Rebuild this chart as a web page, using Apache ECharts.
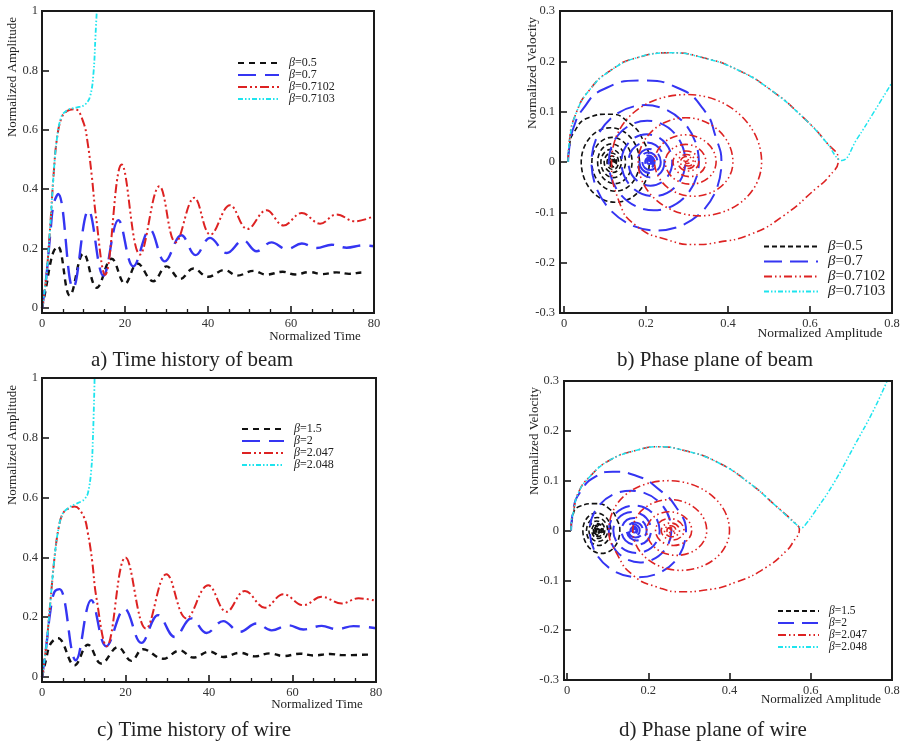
<!DOCTYPE html>
<html>
<head>
<meta charset="utf-8">
<script src="https://cdn.jsdelivr.net/npm/echarts@6/dist/echarts.min.js"></script>
<style>html,body{margin:0;padding:0;background:#fff}#c{width:902px;height:744px}</style>
</head>
<body>
<div id="c"></div>
<script>
// ---------- tick labels ----------
const timeTicks = [0, 20, 40, 60, 80];
const ampTicks = [0, 0.2, 0.4, 0.6, 0.8, 1];
const phaseAmpTicks = [0, 0.2, 0.4, 0.6, 0.8];
const velTicks = [-0.3, -0.2, -0.1, 0, 0.1, 0.2, 0.3];

// ---------- legend names ----------
const beamNames = ['β=0.5', 'β=0.7', 'β=0.7102', 'β=0.7103'];
const wireNames = ['β=1.5', 'β=2', 'β=2.047', 'β=2.048'];

// ---------- a) time history of beam [time, amplitude] ----------
const beamTime05 = [[0,0],[1,0.07],[2,0.15],[2.8,0.19],[3.8,0.208],[6.7,0.042],[10,0.184],[13.2,0.068],[16.8,0.166],[20,0.082],[23,0.150],[26.8,0.090],[30,0.140],[33.3,0.098],[36.5,0.133],[40,0.105],[44,0.128],[47,0.109],[51,0.125],[54,0.112],[58,0.122],[61,0.113],[64.5,0.121],[67.5,0.114],[71,0.120],[74,0.115],[77.5,0.120],[78.2,0.119]];
const beamTime07 = [[0,0],[1,0.1],[2,0.25],[2.8,0.35],[3.9,0.384],[7.5,0.067],[11.2,0.329],[14.8,0.109],[18.4,0.296],[22,0.140],[26,0.264],[29.6,0.157],[33.6,0.245],[37,0.178],[40.5,0.236],[44.5,0.185],[48.5,0.228],[51.7,0.191],[55.3,0.221],[59,0.198],[62.6,0.217],[66.2,0.202],[69.8,0.213],[73.4,0.203],[77.4,0.211],[80,0.208]];
const beamTime7102 = [[0,0],[1,0.1],[2,0.28],[2.8,0.45],[3.6,0.57],[4.7,0.64],[6,0.663],[8,0.669],[10,0.624],[11,0.556],[12,0.444],[13,0.309],[15.2,0.112],[19.2,0.483],[23.6,0.180],[28.3,0.410],[32.2,0.221],[36.7,0.371],[40.6,0.247],[45.3,0.346],[49.5,0.266],[54.1,0.329],[58.2,0.278],[62.6,0.320],[67,0.284],[71,0.315],[75.4,0.292],[80,0.309]];
const beamTime7103 = [[0,0],[1,0.1],[2,0.28],[2.8,0.45],[3.6,0.57],[4.7,0.645],[6,0.665],[7.5,0.673],[9,0.677],[10.4,0.685],[11.6,0.713],[12.4,0.79],[12.9,0.92],[13.2,1.0]];

// ---------- b) phase plane of beam [amplitude, velocity] ----------
const beamPhase05 = [[0.01,0],[0.013,0.03],[0.025,0.06],[0.06,0.088],[0.11,0.095],[0.16,0.077],[0.195,0.04],[0.208,0],[0.125,-0.080],[0.042,0],[0.113,0.068],[0.184,0],[0.126,-0.058],[0.068,0],[0.117,0.049],[0.166,0],[0.124,-0.043],[0.082,0],[0.116,0.036],[0.150,0],[0.120,-0.031],[0.090,0],[0.115,0.025],[0.140,0],[0.119,-0.021],[0.098,0],[0.116,0.018],[0.133,0],[0.119,-0.015],[0.105,0],[0.117,0.012],[0.128,0],[0.118,-0.010],[0.109,0],[0.117,0.008],[0.125,0],[0.118,-0.007],[0.112,0],[0.117,0.005],[0.122,0],[0.118,-0.004],[0.114,0],[0.117,0.003],[0.120,0],[0.117,-0.002],[0.115,0],[0.117,0.001],[0.119,0]];
const beamPhase07 = [[0.01,0],[0.014,0.035],[0.024,0.07],[0.046,0.105],[0.095,0.144],[0.193,0.162],[0.275,0.148],[0.34,0.105],[0.372,0.045],[0.384,0],[0.226,-0.136],[0.067,0],[0.198,0.113],[0.329,0],[0.219,-0.096],[0.109,0],[0.203,0.082],[0.296,0],[0.218,-0.068],[0.140,0],[0.202,0.055],[0.264,0],[0.211,-0.047],[0.157,0],[0.201,0.039],[0.245,0],[0.212,-0.031],[0.179,0],[0.207,0.026],[0.236,0],[0.210,-0.022],[0.184,0],[0.206,0.019],[0.228,0],[0.210,-0.016],[0.191,0],[0.206,0.013],[0.221,0],[0.210,-0.011],[0.198,0],[0.207,0.009],[0.217,0],[0.209,-0.007],[0.202,0],[0.207,0.005],[0.213,0],[0.208,-0.004],[0.203,0],[0.207,0.003],[0.211,0],[0.208,-0.002],[0.206,0],[0.208,0]];
const beamPhase7102 = [[0.01,0],[0.013,0.04],[0.03,0.098],[0.063,0.144],[0.112,0.181],[0.177,0.207],[0.262,0.217],[0.34,0.207],[0.421,0.184],[0.503,0.144],[0.584,0.088],[0.641,0.038],[0.669,0.004],[0.645,-0.03],[0.617,-0.051],[0.535,-0.107],[0.454,-0.144],[0.372,-0.160],[0.323,-0.164],[0.250,-0.154],[0.177,-0.127],[0.135,-0.080],[0.116,0],[0.300,0.134],[0.482,0],[0.332,-0.107],[0.181,0],[0.297,0.088],[0.412,0],[0.316,-0.068],[0.221,0],[0.296,0.054],[0.371,0],[0.309,-0.044],[0.247,0],[0.297,0.035],[0.346,0],[0.306,-0.029],[0.266,0],[0.298,0.022],[0.329,0],[0.304,-0.018],[0.278,0],[0.299,0.015],[0.320,0],[0.302,-0.013],[0.284,0],[0.300,0.011],[0.315,0],[0.303,-0.008],[0.292,0],[0.300,0.005],[0.307,0],[0.300,-0.003],[0.296,0],[0.300,0.002],[0.302,0]];
const beamPhase7103 = [[0.01,0],[0.013,0.04],[0.03,0.098],[0.063,0.144],[0.112,0.181],[0.177,0.207],[0.262,0.217],[0.34,0.207],[0.421,0.184],[0.503,0.144],[0.584,0.088],[0.641,0.038],[0.672,0.004],[0.678,0.003],[0.714,0.045],[0.755,0.098],[0.80,0.158]];

// ---------- c) time history of wire [time, amplitude] ----------
const wireTime15 = [[0,0],[1,0.06],[2,0.11],[3.8,0.130],[7.8,0.039],[11,0.108],[14.2,0.045],[18.2,0.100],[21.4,0.054],[24.2,0.093],[29,0.061],[33,0.089],[36.2,0.065],[40.2,0.085],[43.4,0.067],[47.4,0.081],[51,0.069],[54.6,0.079],[57.8,0.070],[61.8,0.078],[65,0.072],[69,0.077],[72.2,0.073],[78.2,0.075]];
const wireTime2 = [[0,0],[1,0.1],[2,0.22],[3,0.285],[4.2,0.294],[8.1,0.056],[11.8,0.257],[15.4,0.103],[19.8,0.228],[23.8,0.114],[27.8,0.207],[31.8,0.134],[35.8,0.196],[39.4,0.147],[43.4,0.187],[47.4,0.151],[51.4,0.179],[55,0.156],[59,0.173],[62.6,0.159],[67,0.171],[70.6,0.160],[74.6,0.170],[80,0.163]];
const wireTime2047 = [[0,0],[1,0.1],[2,0.25],[3,0.4],[4,0.5],[5,0.547],[6.5,0.565],[7.8,0.570],[10,0.536],[11,0.48],[12,0.39],[13,0.268],[15.5,0.103],[20,0.400],[24.9,0.162],[29.8,0.344],[34.6,0.196],[39.8,0.307],[44.2,0.218],[48.6,0.288],[53.4,0.232],[57.8,0.277],[62.6,0.240],[67,0.268],[71.8,0.246],[75.8,0.263],[80,0.255]];
const wireTime2048 = [[0,0],[1,0.1],[2,0.25],[3,0.4],[4,0.5],[5,0.547],[6.5,0.567],[8,0.578],[9.5,0.588],[10.2,0.595],[11,0.615],[11.8,0.693],[12.2,0.80],[12.6,1.0]];

// ---------- d) phase plane of wire [amplitude, velocity] ----------
const wirePhase15 = [[0.01,0],[0.014,0.028],[0.03,0.048],[0.07,0.054],[0.105,0.043],[0.124,0.02],[0.130,0],[0.085,-0.046],[0.039,0],[0.073,0.035],[0.108,0],[0.078,-0.030],[0.048,0],[0.074,0.026],[0.100,0],[0.077,-0.022],[0.054,0],[0.073,0.019],[0.093,0],[0.077,-0.016],[0.061,0],[0.075,0.014],[0.089,0],[0.077,-0.012],[0.065,0],[0.075,0.011],[0.085,0],[0.076,-0.009],[0.067,0],[0.074,0.008],[0.081,0],[0.075,-0.007],[0.069,0],[0.074,0.006],[0.079,0],[0.075,-0.0045],[0.071,0],[0.075,0.004],[0.078,0],[0.075,-0.0035],[0.072,0],[0.075,0.003],[0.077,0],[0.075,-0.002],[0.073,0],[0.075,0]];
const wirePhase2 = [[0.01,0],[0.015,0.04],[0.035,0.08],[0.07,0.108],[0.113,0.118],[0.17,0.11],[0.23,0.08],[0.27,0.045],[0.293,0],[0.175,-0.094],[0.056,0],[0.157,0.080],[0.257,0],[0.18,-0.064],[0.103,0],[0.166,0.050],[0.228,0],[0.171,-0.045],[0.114,0],[0.161,0.037],[0.207,0],[0.171,-0.029],[0.134,0],[0.165,0.025],[0.196,0],[0.172,-0.020],[0.147,0],[0.167,0.016],[0.187,0],[0.169,-0.014],[0.151,0],[0.165,0.012],[0.179,0],[0.168,-0.010],[0.156,0],[0.165,0.0075],[0.173,0],[0.166,-0.006],[0.159,0],[0.165,0.005],[0.171,0],[0.166,-0.004],[0.161,0],[0.166,0.003],[0.170,0],[0.166,-0.002],[0.163,0],[0.166,0]];
const wirePhase2047 = [[0.01,0],[0.011,0.02],[0.015,0.034],[0.027,0.074],[0.056,0.108],[0.105,0.141],[0.171,0.161],[0.225,0.168],[0.286,0.161],[0.368,0.138],[0.451,0.094],[0.516,0.048],[0.566,0.011],[0.572,0.003],[0.555,-0.025],[0.541,-0.04],[0.492,-0.073],[0.418,-0.103],[0.336,-0.120],[0.286,-0.123],[0.220,-0.113],[0.163,-0.090],[0.125,-0.050],[0.103,0],[0.25,0.100],[0.40,0],[0.28,-0.080],[0.162,0],[0.253,0.062],[0.344,0],[0.27,-0.050],[0.196,0],[0.252,0.0375],[0.307,0],[0.262,-0.030],[0.218,0],[0.253,0.024],[0.288,0],[0.260,-0.019],[0.232,0],[0.255,0.015],[0.277,0],[0.258,-0.0125],[0.240,0],[0.254,0.0095],[0.268,0],[0.257,-0.0075],[0.246,0],[0.254,0.0057],[0.263,0],[0.256,-0.0045],[0.250,0],[0.254,0.003],[0.258,0],[0.255,0]];
const wirePhase2048 = [[0.01,0],[0.011,0.02],[0.015,0.034],[0.027,0.074],[0.056,0.108],[0.105,0.141],[0.171,0.161],[0.225,0.168],[0.286,0.161],[0.368,0.138],[0.451,0.094],[0.516,0.048],[0.566,0.011],[0.578,0.006],[0.590,0.015],[0.607,0.034],[0.656,0.094],[0.706,0.168],[0.755,0.242],[0.788,0.30]];

// ---------- styling ----------
const FONT = 'Liberation Serif';
const C_BLACK = '#111111', C_BLUE = '#3535f2', C_RED = '#dd2222', C_CYAN = '#1ee4ee';

function axis(gi, ticks, offset, minorSplit, margin) {
  return {
    type: 'value', gridIndex: gi,
    min: ticks[0], max: ticks[ticks.length - 1], interval: +(ticks[1] - ticks[0]).toFixed(6),
    offset: offset,
    axisLine: { show: false, onZero: false },
    axisTick: { show: true, inside: true, length: 7, lineStyle: { color: '#1a1a1a', width: 1.6 } },
    minorTick: { show: minorSplit > 0, splitNumber: minorSplit || 5, length: 4, lineStyle: { color: '#1a1a1a', width: 1.3 } },
    axisLabel: { color: '#333', fontFamily: FONT, fontSize: 12.5, margin: margin },
    splitLine: { show: false }, minorSplitLine: { show: false }
  };
}

function line(name, data, idx, color, width, dash, smooth) {
  return {
    type: 'line', name: name, data: data, xAxisIndex: idx, yAxisIndex: idx,
    symbol: 'none', showSymbol: false, smooth: smooth, color: color,
    lineStyle: { color: color, width: width, type: dash },
    animation: false, clip: true, emphasis: { disabled: true }, silent: true
  };
}

function legend(names, left, top, itemW, fontSize, rowH) {
  return {
    data: names, left: left, top: top, orient: 'vertical',
    itemWidth: itemW, itemHeight: rowH, itemGap: 0, selectedMode: false,
    padding: 0,
    itemStyle: { color: 'rgba(0,0,0,0)', borderColor: 'rgba(0,0,0,0)', borderWidth: 0, opacity: 0 },
    formatter: n => '{i|β}' + n.slice(1),
    textStyle: {
      fontFamily: FONT, fontSize: fontSize, color: '#222', padding: [0, 0, 0, 5],
      rich: { i: { fontFamily: FONT, fontSize: fontSize, fontStyle: 'italic', color: '#222' } }
    }
  };
}

function frame(x, y, w, h) {
  return { type: 'rect', shape: { x: x, y: y, width: w, height: h }, style: { fill: null, stroke: '#1a1a1a', lineWidth: 2 }, silent: true, z: 100 };
}
function txt(s, x, y, size, rot, align) {
  return { type: 'text', x: x, y: y, rotation: rot || 0, silent: true, z: 100,
    style: { text: s, font: size + 'px "' + FONT + '"', fill: '#222', align: align || 'center', verticalAlign: 'middle' } };
}

const option = {
  backgroundColor: '#fff',
  animation: false,
  grid: [
    { left: 42, top: 11, width: 332, height: 297, containLabel: false, outerBoundsMode: 'none' },
    { left: 564, top: 11, width: 328, height: 302, containLabel: false, outerBoundsMode: 'none' },
    { left: 42, top: 378, width: 334, height: 299, containLabel: false, outerBoundsMode: 'none' },
    { left: 567, top: 381, width: 325, height: 299, containLabel: false, outerBoundsMode: 'none' }
  ],
  xAxis: [
    axis(0, timeTicks, 5, 4, 4),
    axis(1, phaseAmpTicks, 0, 0, 4),
    axis(2, timeTicks, 5, 4, 4),
    axis(3, phaseAmpTicks, 0, 0, 4)
  ],
  yAxis: [
    axis(0, ampTicks, 0, 0, 4),
    axis(1, velTicks, 4, 0, 5),
    axis(2, ampTicks, 0, 0, 4),
    axis(3, velTicks, 3, 0, 5)
  ],
  legend: [
    legend(beamNames, 237, 57, 41, 12, 12),
    legend(beamNames.map(n => n + ' '), 763, 239, 54, 15, 15),
    legend(wireNames, 241, 423, 42, 12, 12),
    legend(wireNames.map(n => n + ' '), 777, 605, 41, 11.5, 11.7)
  ],
  series: [
    line(beamNames[0], beamTime05, 0, C_BLACK, 2.4, [6, 5], 0.4),
    line(beamNames[1], beamTime07, 0, C_BLUE, 2.4, [18, 9], 0.4),
    line(beamNames[2], beamTime7102, 0, C_RED, 2, [9, 3, 2, 3, 2, 3], 0.4),
    line(beamNames[3], beamTime7103, 0, C_CYAN, 1.8, [5, 2, 1.5, 2, 1.5, 2], 0.4),

    line(beamNames[0] + ' ', beamPhase05, 1, C_BLACK, 1.6, [5, 3], 0.55),
    line(beamNames[1] + ' ', beamPhase07, 1, C_BLUE, 2, [18, 8], 0.55),
    line(beamNames[2] + ' ', beamPhase7102, 1, C_RED, 1.6, [8, 3, 1.5, 3, 1.5, 3], 0.55),
    line(beamNames[3] + ' ', beamPhase7103, 1, C_CYAN, 1.5, [5, 2, 1.5, 2, 1.5, 2], 0.45),

    line(wireNames[0], wireTime15, 2, C_BLACK, 2.4, [6, 5], 0.4),
    line(wireNames[1], wireTime2, 2, C_BLUE, 2.4, [18, 9], 0.4),
    line(wireNames[2], wireTime2047, 2, C_RED, 2, [9, 3, 2, 3, 2, 3], 0.4),
    line(wireNames[3], wireTime2048, 2, C_CYAN, 1.8, [5, 2, 1.5, 2, 1.5, 2], 0.4),

    line(wireNames[0] + ' ', wirePhase15, 3, C_BLACK, 1.6, [5, 3], 0.55),
    line(wireNames[1] + ' ', wirePhase2, 3, C_BLUE, 2, [16, 8], 0.55),
    line(wireNames[2] + ' ', wirePhase2047, 3, C_RED, 1.6, [8, 3, 1.5, 3, 1.5, 3], 0.55),
    line(wireNames[3] + ' ', wirePhase2048, 3, C_CYAN, 1.5, [5, 2, 1.5, 2, 1.5, 2], 0.45)
  ],
  graphic: [
    frame(42, 11, 332, 302),
    frame(560, 11, 332, 302),
    frame(42, 378, 334, 304),
    frame(564, 381, 328, 299),
    txt('Normalized Amplitude', 13, 77, 13, Math.PI / 2),
    txt('Normalized Time', 315, 337, 13),
    txt('Normalized Velocity', 532, 73, 13.5, Math.PI / 2),
    txt('Normalized Amplitude', 820, 333, 13.5),
    txt('Normalized Amplitude', 13, 445, 13, Math.PI / 2),
    txt('Normalized Time', 317, 705, 13),
    txt('Normalized Velocity', 535, 441, 13, Math.PI / 2),
    txt('Normalized Amplitude', 821, 700, 13),
    txt('a) Time history of beam', 192, 360, 21),
    txt('b) Phase plane of beam', 715, 360, 21),
    txt('c) Time history of wire', 194, 730, 21),
    txt('d) Phase plane of wire', 713, 730, 21)
  ]
};

const chart = echarts.init(document.getElementById('c'), null, { renderer: 'canvas', width: 902, height: 744 });
chart.setOption(option);
</script>
</body>
</html>
